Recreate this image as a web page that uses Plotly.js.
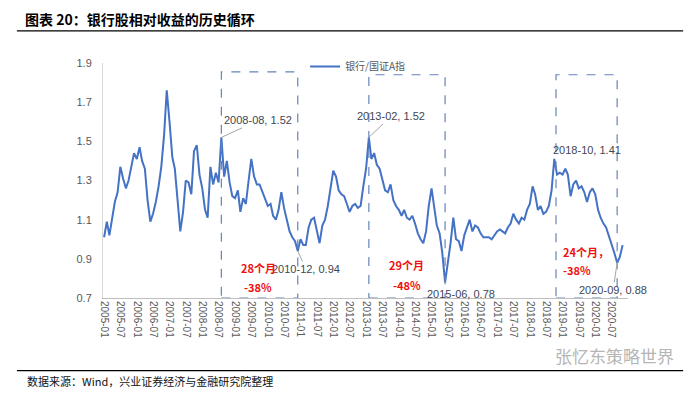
<!DOCTYPE html>
<html><head><meta charset="utf-8">
<script src="https://cdn.plot.ly/plotly-3.0.1.min.js"></script>
<style>html,body{margin:0;padding:0;background:#fff}#c{width:697px;height:398px}</style>
</head><body><div id="c"></div>
<script>
// Monthly relative ratio 银行/国证A指
const startYear = 2005;
const v2005 = [1.01,1.09,1.02,1.12,1.19,1.24,1.37,1.31,1.26,1.30,1.38,1.44];
const v2006 = [1.41,1.47,1.40,1.36,1.20,1.09,1.13,1.19,1.27,1.37,1.53,1.76];
const v2007 = [1.60,1.42,1.36,1.18,1.04,1.14,1.30,1.29,1.23,1.45,1.48,1.33];
const v2008 = [1.26,1.15,1.11,1.37,1.28,1.34,1.29,1.52,1.32,1.40,1.29,1.22];
const v2009 = [1.21,1.25,1.14,1.21,1.18,1.30,1.41,1.32,1.28,1.28,1.24,1.20];
const v2010 = [1.17,1.18,1.12,1.10,1.15,1.24,1.16,1.10,1.04,1.01,0.99,0.94];
const v2011 = [1.00,0.97,0.97,1.06,1.10,1.11,1.05,0.98,1.07,1.10,1.17,1.27];
const v2012 = [1.35,1.32,1.25,1.23,1.22,1.18,1.14,1.17,1.18,1.16,1.17,1.27];
const v2013 = [1.36,1.52,1.41,1.44,1.38,1.36,1.30,1.25,1.24,1.28,1.20,1.17];
const v2014 = [1.15,1.12,1.15,1.11,1.10,1.12,1.08,1.03,1.00,0.98,1.04,1.17];
const v2015 = [1.26,1.15,1.07,1.03,0.93,0.78,0.87,0.98,1.11,1.00,0.99,0.94];
const v2016 = [1.02,1.06,1.10,1.04,1.07,1.06,1.03,1.01,1.01,1.01,1.00,1.02];
const v2017 = [1.04,1.05,1.04,1.03,1.06,1.08,1.13,1.10,1.08,1.11,1.10,1.15];
const v2018 = [1.18,1.27,1.23,1.15,1.17,1.13,1.14,1.17,1.25,1.41,1.33,1.34];
const v2019 = [1.33,1.36,1.33,1.22,1.28,1.30,1.26,1.27,1.24,1.19,1.24,1.26];
const v2020 = [1.23,1.15,1.11,1.08,1.06,1.02,0.98,0.93,0.88,0.91,0.97];

const yearly = [v2005,v2006,v2007,v2008,v2009,v2010,v2011,v2012,v2013,v2014,v2015,v2016,v2017,v2018,v2019,v2020];
const dates = [], vals = [];
yearly.forEach((arr, i) => arr.forEach((v, j) => {
  dates.push((startYear + i) + '-' + String(j + 1).padStart(2, '0') + '-01');
  vals.push(v);
}));

const seriesName = '银行/国证A指';
const titleText = '图表 20：银行股相对收益的历史循环';
const sourceText = '数据来源：Wind，兴业证券经济与金融研究院整理';
const watermark = '张忆东策略世界';
const yTicks = [0.7, 0.9, 1.1, 1.3, 1.5, 1.7, 1.9];

// cycle boxes: [start, end] and peak/trough labels
const cycles = [
  {x0: '2008-08-01', x1: '2010-12-01', top: 1.855},
  {x0: '2013-02-01', x1: '2015-06-01', top: 1.84},
  {x0: '2018-10-20', x1: '2020-09-01', top: 1.84}
];
const peakLabels = [
  {d: '2008-08-01', v: 1.52, t: '2008-08, 1.52', ax: 37, ay: -17, arrow: true},
  {d: '2013-02-01', v: 1.52, t: '2013-02, 1.52', ax: 22, ay: -21, arrow: true},
  {d: '2010-12-01', v: 0.94, t: '2010-12, 0.94', ax: 8, ay: 18, arrow: true},
  {d: '2015-06-01', v: 0.78, t: '2015-06, 0.78', ax: 16, ay: 12, arrow: false},
  {d: '2018-10-01', v: 1.41, t: '2018-10, 1.41', ax: 33, ay: -9, arrow: false},
  {d: '2020-09-01', v: 0.88, t: '2020-09, 0.88', ax: -4, ay: 27, arrow: true}
];
const cycleTexts = [
  {d: '2009-09-15', v: 0.855, t: '28个月', a: 'center'},
  {d: '2009-09-15', v: 0.758, t: '-38%', a: 'center'},
  {d: '2014-04-01', v: 0.870, t: '29个月', a: 'center'},
  {d: '2014-04-01', v: 0.768, t: '-48%', a: 'center'},
  {d: '2018-12-15', v: 0.936, t: '24个月，', a: 'left'},
  {d: '2018-12-15', v: 0.845, t: '-38%', a: 'left'}
];

const fnum = 'Liberation Sans, Arial, sans-serif';
const fcjk = 'Noto Sans CJK SC, sans-serif';
const boxColor = '#6683B8';

const shapes = cycles.map(c => ({
  type: 'rect', xref: 'x', yref: 'y', x0: c.x0, x1: c.x1, y0: 0.7, y1: c.top,
  line: {color: boxColor, width: 1.2, dash: 'dash'}
}));
// header / footer rules
shapes.push({type: 'line', xref: 'paper', yref: 'paper', x0: -0.164, x1: 1.105, y0: 1.137, y1: 1.137, line: {color: '#000', width: 1.3}});
shapes.push({type: 'line', xref: 'paper', yref: 'paper', x0: -0.164, x1: 1.105, y0: -0.309, y1: -0.309, line: {color: '#000', width: 1.3}});

const annotations = [];
peakLabels.forEach(p => annotations.push({
  x: p.d, y: p.v, xref: 'x', yref: 'y', text: p.t,
  showarrow: p.arrow, arrowhead: 0, arrowwidth: 1, arrowcolor: '#A6A6A6', standoff: 0,
  ax: p.ax, ay: p.ay, xshift: p.arrow ? 0 : p.ax, yshift: p.arrow ? 0 : -p.ay,
  font: {family: fnum, size: 11, color: '#404654'}
}));
cycleTexts.forEach(c => annotations.push({
  x: c.d, y: c.v, xref: 'x', yref: 'y', text: c.t, showarrow: false,
  xanchor: c.a, yanchor: 'middle',
  font: {family: fcjk, size: 11, color: '#F01010', weight: 'bold'}
}));
annotations.push({x: -0.149, y: -0.353, xref: 'paper', yref: 'paper', xanchor: 'left', yanchor: 'middle',
  text: sourceText, showarrow: false, font: {family: fcjk, size: 11, color: '#111'}});
annotations.push({x: 0.975, y: -0.243, xref: 'paper', yref: 'paper', xanchor: 'center', yanchor: 'middle',
  text: watermark, showarrow: false, font: {family: fcjk, size: 17, color: '#B5B5B5'}});

const trace = {
  x: dates, y: vals, type: 'scatter', mode: 'lines', name: seriesName,
  line: {color: '#4472C4', width: 2}
};

const layout = {
  width: 697, height: 398,
  margin: {l: 103, r: 69, t: 63, b: 100},
  paper_bgcolor: '#fff', plot_bgcolor: '#fff',
  title: {text: titleText, x: 0.036, xanchor: 'left', xref: 'container', y: 0.95, yanchor: 'middle', yref: 'container',
    font: {family: fcjk, size: 14, color: '#000', weight: 'bold'}},
  showlegend: true,
  legend: {x: 0.385, xanchor: 'left', y: 0.985, yanchor: 'middle', orientation: 'h',
    font: {family: fcjk, size: 10, color: '#595959'}, bgcolor: 'rgba(0,0,0,0)', itemwidth: 30},
  xaxis: {
    type: 'date', range: ['2004-12-20', '2020-12-31'],
    tick0: '2005-01-01', dtick: 'M6', tickformat: '%Y-%m', tickangle: 90,
    showgrid: false, zeroline: false, showline: true, linecolor: '#BFBFBF', linewidth: 1,
    ticks: '', tickfont: {family: fnum, size: 10, color: '#595959'}
  },
  yaxis: {
    range: [0.7, 1.9], tickvals: yTicks, ticktext: yTicks.map(v => v.toFixed(1)),
    showgrid: false, zeroline: false, showline: true, linecolor: '#D9D9D9', linewidth: 1,
    ticks: '', ticklabelstandoff: 8, tickfont: {family: fnum, size: 11, color: '#595959'}
  },
  shapes: shapes,
  annotations: annotations,
  hovermode: false
};

Plotly.newPlot('c', [trace], layout, {staticPlot: true});
</script>
</body></html>
